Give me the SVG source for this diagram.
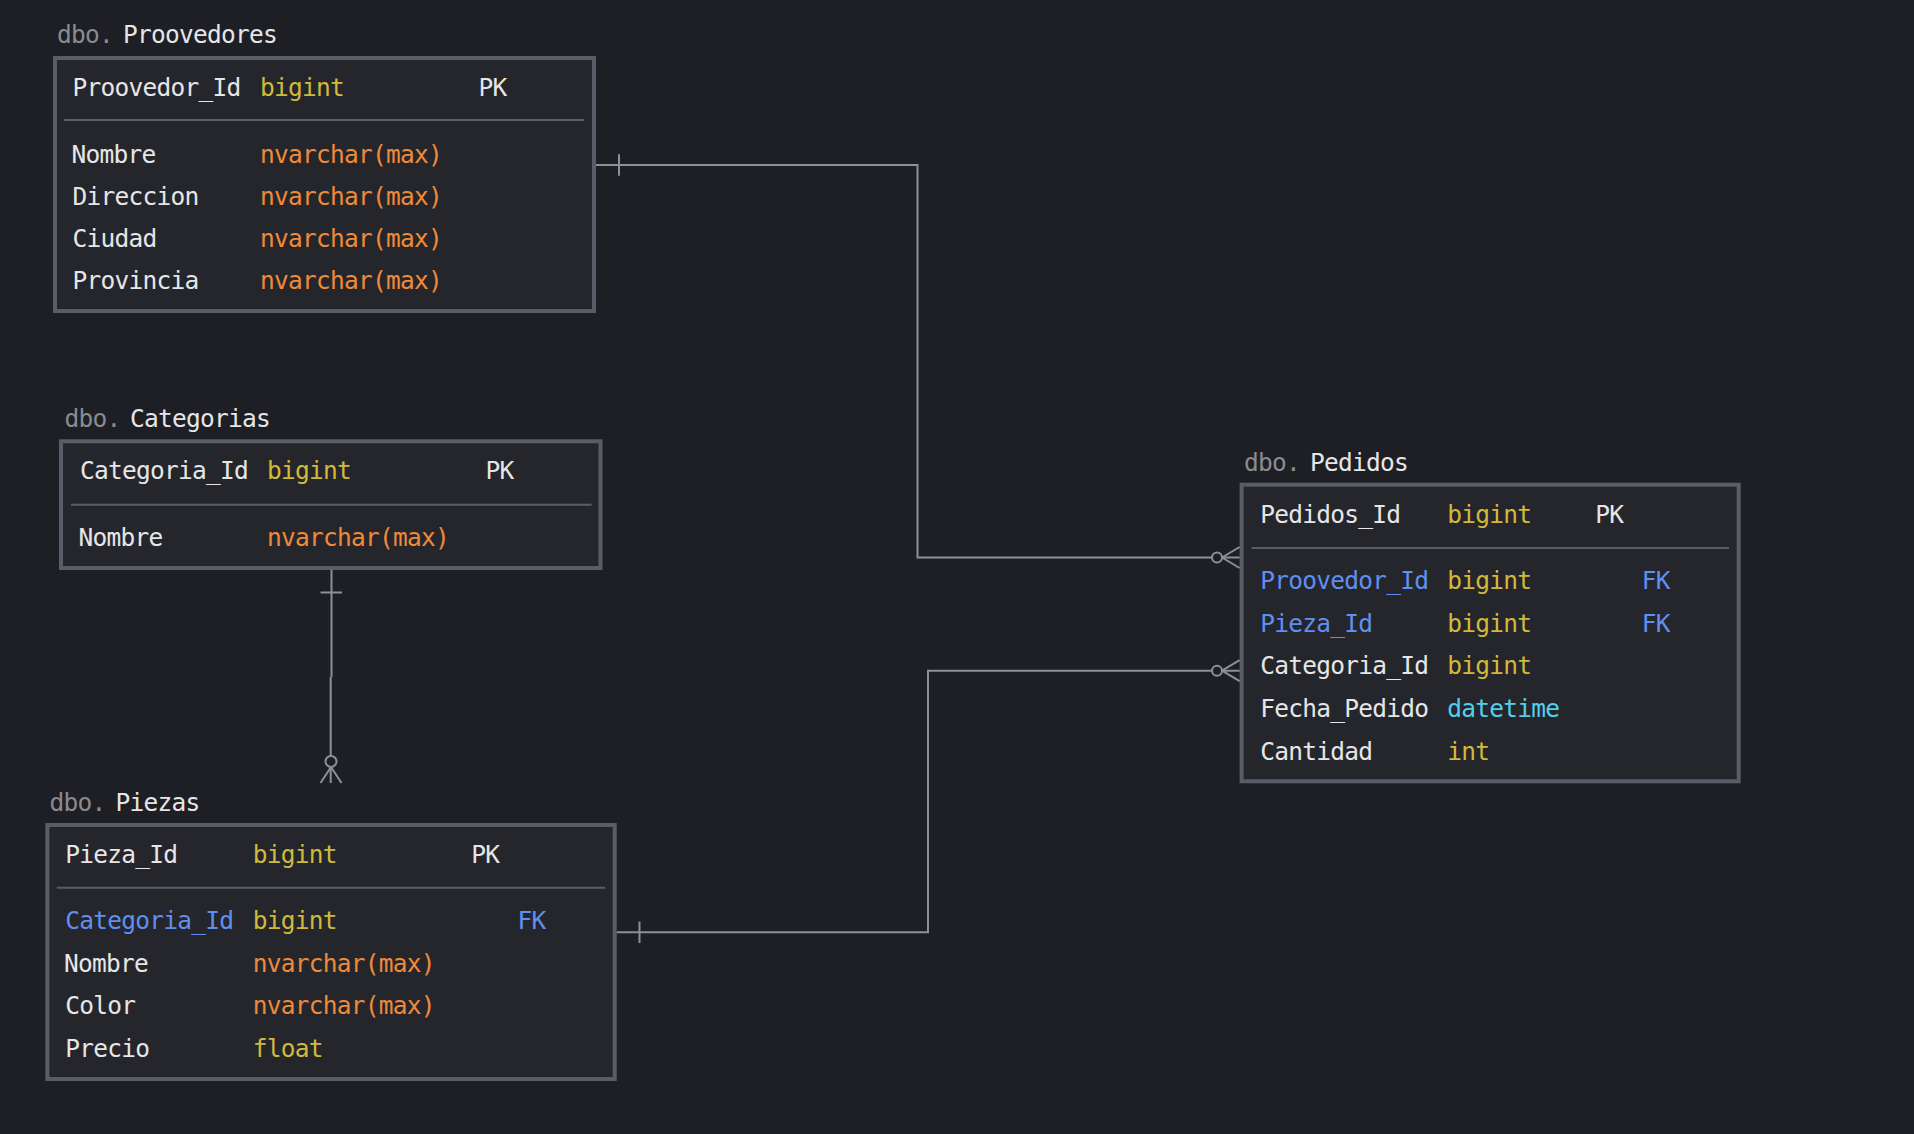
<svg xmlns="http://www.w3.org/2000/svg" width="1914" height="1134" viewBox="0 0 1914 1134">
<style>
text{font-family:"DejaVu Sans Mono","Liberation Mono",monospace;font-size:24.5px;letter-spacing:-0.75px;fill:#e6e6e8}
.db{fill:#8a8b91}
.t{fill:#d1ba3a}
.s{fill:#ef8a3a}
.fk{fill:#5f8ff0}
.dt{fill:#52cfee}
.box{fill:#25262c;stroke:#5b5c67;stroke-width:4}
.div{stroke:#5b5c67;stroke-width:2}
.ln{fill:none;stroke:#8e9098;stroke-width:2}
.ci{fill:#1e1f24;stroke:#8e9098;stroke-width:2}
</style>
<rect width="1914" height="1134" fill="#1e1f24"/>

<g id="proovedores">
<text x="57" y="43" class="db">dbo.</text><text x="123" y="43">Proovedores</text>
<rect class="box" x="55" y="58" width="539" height="253"/>
<text x="72.5" y="96">Proovedor_Id</text><text x="260" y="96" class="t">bigint</text><text x="478.5" y="96">PK</text>
<line class="div" x1="64" y1="120" x2="584" y2="120"/>
<text x="71.5" y="162.7">Nombre</text><text x="260" y="162.7" class="s">nvarchar(max)</text>
<text x="72.5" y="204.5">Direccion</text><text x="260" y="204.5" class="s">nvarchar(max)</text>
<text x="72.5" y="247">Ciudad</text><text x="260" y="247" class="s">nvarchar(max)</text>
<text x="72.5" y="289.3">Provincia</text><text x="260" y="289.3" class="s">nvarchar(max)</text>
</g>

<g id="categorias">
<text x="64.5" y="427.3" class="db">dbo.</text><text x="130" y="427.3">Categorias</text>
<rect class="box" x="61" y="441.3" width="539.5" height="126.7"/>
<text x="80" y="479.3">Categoria_Id</text><text x="267" y="479.3" class="t">bigint</text><text x="485.5" y="479.3">PK</text>
<line class="div" x1="71" y1="504.7" x2="591.6" y2="504.7"/>
<text x="78.4" y="545.7">Nombre</text><text x="267" y="545.7" class="s">nvarchar(max)</text>
</g>

<g id="piezas">
<text x="49.6" y="810.7" class="db">dbo.</text><text x="115.4" y="810.7">Piezas</text>
<rect class="box" x="47.4" y="825" width="567.3" height="254"/>
<text x="65.3" y="863">Pieza_Id</text><text x="252.8" y="863" class="t">bigint</text><text x="471.3" y="863">PK</text>
<line class="div" x1="56.8" y1="887.8" x2="605" y2="887.8"/>
<text x="65.3" y="929" class="fk">Categoria_Id</text><text x="252.8" y="929" class="t">bigint</text><text x="517.6" y="929" class="fk">FK</text>
<text x="64" y="971.5">Nombre</text><text x="252.8" y="971.5" class="s">nvarchar(max)</text>
<text x="65.3" y="1013.9">Color</text><text x="252.8" y="1013.9" class="s">nvarchar(max)</text>
<text x="65.3" y="1056.6">Precio</text><text x="252.8" y="1056.6" class="t">float</text>
</g>

<g id="pedidos">
<text x="1244" y="471" class="db">dbo.</text><text x="1310" y="471">Pedidos</text>
<rect class="box" x="1241.6" y="484.7" width="497.1" height="296.6"/>
<text x="1260.3" y="523.3">Pedidos_Id</text><text x="1447.3" y="523.3" class="t">bigint</text><text x="1595.3" y="523.3">PK</text>
<line class="div" x1="1251.7" y1="548" x2="1729" y2="548"/>
<text x="1260.3" y="589" class="fk">Proovedor_Id</text><text x="1447.3" y="589" class="t">bigint</text><text x="1641.8" y="589" class="fk">FK</text>
<text x="1260.3" y="632" class="fk">Pieza_Id</text><text x="1447.3" y="632" class="t">bigint</text><text x="1641.8" y="632" class="fk">FK</text>
<text x="1260.3" y="673.7">Categoria_Id</text><text x="1447.3" y="673.7" class="t">bigint</text>
<text x="1260.3" y="716.7">Fecha_Pedido</text><text x="1447.3" y="716.7" class="dt">datetime</text>
<text x="1260.3" y="760">Cantidad</text><text x="1447.3" y="760" class="t">int</text>
</g>

<g id="connectors">
<path class="ln" d="M596 165 H917.5 V557.5 H1239.6"/>
<line class="ln" x1="619" y1="154.3" x2="619" y2="175.7"/>
<path class="ln" d="M1222 557.5 L1239.6 547 M1222 557.5 L1239.6 568"/>
<circle class="ci" cx="1217" cy="557.5" r="5"/>
<path class="ln" d="M616.7 932.3 H928 V670.7 H1239.6"/>
<line class="ln" x1="639.5" y1="921.6" x2="639.5" y2="943"/>
<path class="ln" d="M1222 670.7 L1239.6 660.2 M1222 670.7 L1239.6 681.2"/>
<circle class="ci" cx="1217" cy="670.7" r="5"/>
<path class="ln" d="M331.5 570 V677 M330.7 677 V783"/>
<line class="ln" x1="320.5" y1="592.5" x2="342" y2="592.5"/>
<path class="ln" d="M331 767 L320.5 783 M331 767 L341.5 783"/>
<circle class="ci" cx="331" cy="761.4" r="5.5"/>
</g>
</svg>
